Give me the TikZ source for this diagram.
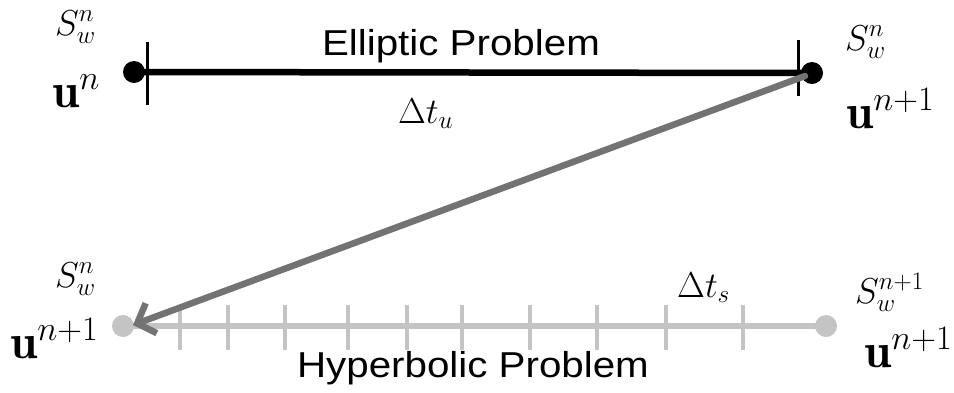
\RequirePackage{fix-cm}
\documentclass[tikz,border=0pt]{standalone}
\usepackage{fontspec}
\setsansfont[FakeStretch=1.12]{Liberation Sans}
\usetikzlibrary{arrows.meta}
\definecolor{lgray}{HTML}{C4C4C4}
\definecolor{dgray}{HTML}{737373}
\begin{document}
\begin{tikzpicture}[x=1pt,y=-1pt,
  small/.style={inner sep=0pt,anchor=base west,font=\fontsize{36}{40}\selectfont},
  big/.style={inner sep=0pt,anchor=base west,font=\fontsize{49}{54}\selectfont},
  title/.style={inner sep=0pt,anchor=base,font=\fontsize{36}{40}\selectfont\sffamily},
  topline/.style={line width=6.5pt,black},
  botline/.style={line width=6.5pt,lgray},
  toptick/.style={line width=3pt,black},
  bottick/.style={line width=3.5pt,lgray},
  movearrow/.style={line width=6.5pt,dgray,line cap=round,-{Straight Barb[length=15pt,width=32pt,line width=6.5pt]}}
]
\useasboundingbox (0,0) rectangle (954,392);
% top
\coordinate (a) at (134,72);
\coordinate (b) at (812,73);
\draw[topline] (a) -- (b);
\fill[black] (a) circle (11);
\fill[black] (b) circle (11);
\coordinate (t1a) at (147,42); \coordinate (t1b) at (147,105);
\coordinate (t2a) at (798,40); \coordinate (t2b) at (798,96);
\draw[toptick] (t1a) -- (t1b);
\draw[toptick] (t2a) -- (t2b);
\node[title] (ell) at (461,55) {Elliptic Problem};
\node[small] (dtu) at (398,123) {$\Delta t_u$};
\node[small] (s1) at (55,35) {$S_w^n$};
\node[big] (u1) at (52,107) {$\mathbf{u}^n$};
\node[small] (s2) at (845,50) {$S_w^n$};
\node[big] (u2) at (846,128) {$\mathbf{u}^{n+1}$};
% bottom
\coordinate (c) at (123,326);
\coordinate (d) at (826,326);
\draw[botline] (c) -- (d);
\fill[lgray] (c) circle (11);
\fill[lgray] (d) circle (11);
\foreach \x in {180,228,285,348,407,462,530,597,666,743}{
  \draw[bottick] (\x,305) -- (\x,350);
}
\node[title] (hyp) at (473,377) {Hyperbolic Problem};
\node[small] (dts) at (677,297) {$\Delta t_s$};
\node[small] (s3) at (55,287) {$S_w^n$};
\node[big] (u3) at (10,358) {$\mathbf{u}^{n+1}$};
\node[small] (s4) at (855,303) {$S_w^{n+1}$};
\node[big] (u4) at (864,367) {$\mathbf{u}^{n+1}$};
% transfer arrow
\coordinate (p) at (805,76);
\coordinate (q) at (133,325);
\draw[movearrow] (p) -- (q);
\end{tikzpicture}
\end{document}
